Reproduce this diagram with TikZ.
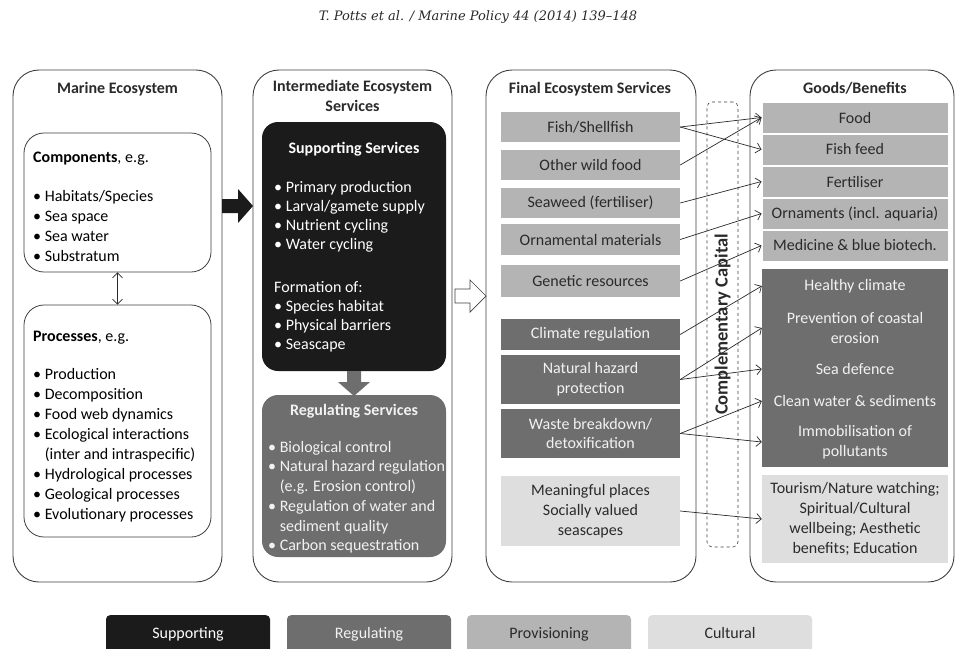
\documentclass[tikz,border=0pt]{standalone}
\usepackage{fontspec}
\setmainfont{Carlito}
\newfontfamily\hdrfont{DejaVu Serif}
\usetikzlibrary{arrows.meta}

\definecolor{supp}{HTML}{1B1B1B}
\definecolor{regu}{HTML}{6E6E6E}
\definecolor{prov}{HTML}{B4B4B4}
\definecolor{cult}{HTML}{DEDEDE}
\definecolor{ink}{HTML}{2A2A2A}
\definecolor{paper}{HTML}{F2F2F2}
\definecolor{frame}{HTML}{404040}

\newcommand{\blt}{\textbullet\ }
\newcommand{\bltgap}{\phantom{\textbullet\ }}

\tikzset{
  colbox/.style={draw=frame, line width=0.9pt, rounded corners=26pt},
  subbox/.style={draw=frame, line width=0.8pt, rounded corners=20pt},
  colhead/.style={anchor=base, font=\bfseries, inner sep=0pt, text=ink},
  listline/.style={anchor=base west, inner sep=0pt},
  svc/.style={rectangle, minimum width=179pt, inner sep=1pt, align=center},
  ben/.style={rectangle, minimum width=186pt, inner sep=1pt, align=center},
  benline/.style={inner sep=0pt, text=paper},
  link/.style={-{Straight Barb[length=5pt,width=10pt]}, line width=0.7pt, draw=ink},
  twoway/.style={{Straight Barb[length=5pt,width=10pt]}-{Straight Barb[length=5pt,width=10pt]}, line width=0.7pt, draw=ink},
  legendbox/.style={rectangle, rounded corners=4pt, anchor=north, minimum width=164pt,
                    inner ysep=12pt, text height=11pt, text depth=3pt},
}

\begin{document}
\fontsize{16pt}{19.8pt}\selectfont
\begin{tikzpicture}[x=1pt, y=-1pt]
    \clip (0,0) rectangle (957,648);
    \fill[white] (0,0) rectangle (957,648);

    % 0. 页眉
    \node[inner sep=0pt, text=ink] (hdr) at (478,17)
      {\hdrfont\itshape\fontsize{13pt}{15pt}\selectfont T. Potts et al. / Marine Policy 44 (2014) 139–148};

    % 1. 海洋生态系统
    \node[colbox, minimum width=209pt, minimum height=512pt] (marine) at (117.5,326) {};
    \node[colhead] (marine-t) at (117.5,93) {Marine Ecosystem};

    \node[subbox, minimum width=187pt, minimum height=139pt] (comp) at (117.5,202.5) {};
    \node[listline] (comp-t) at (33,162) {\textbf{Components}, e.g.};
    \foreach \txt [count=\i] in {Habitats/Species, Sea space, Sea water, Substratum}
      \node[listline] (comp-\i) at (33,181+20*\i) {\blt\txt};

    \node[subbox, minimum width=187pt, minimum height=232pt] (proc) at (117.5,421) {};
    \node[listline] (proc-t) at (33,341) {\textbf{Processes}, e.g.};
    \foreach \txt [count=\i] in {\blt Production, \blt Decomposition, \blt Food web dynamics,
        \blt Ecological interactions, \bltgap(inter and intraspecific), \blt Hydrological processes,
        \blt Geological processes, \blt Evolutionary processes}
      \node[listline] (proc-\i) at (33,359+20*\i) {\txt};

    \draw[twoway] (comp.south) -- (proc.north);

    % 粗箭头 (黑)
    \fill[supp] (222,199) -- (238,199) -- (238,189) -- (253,206) -- (238,223) -- (238,213) -- (222,213) -- cycle;

    % 2. 中间生态系统服务
    \node[colbox, minimum width=199pt, minimum height=512pt] (inter) at (352.5,326) {};
    \node[colhead] (inter-t1) at (352.5,91) {Intermediate Ecosystem};
    \node[colhead] (inter-t2) at (352.5,111) {Services};

    \node[fill=supp, rounded corners=16pt, minimum width=184pt, minimum height=249pt] (supp-box) at (354,246.5) {};
    \node[colhead, text=white] (supp-t) at (354,153) {Supporting Services};
    \foreach \txt [count=\i] in {Primary production, Larval/gamete supply, Nutrient cycling, Water cycling}
      \node[listline, text=white] (supp-\i) at (274,173+19.2*\i) {\blt\txt};
    \node[listline, text=white] (form-t) at (274,292) {Formation of:};
    \foreach \txt [count=\i] in {Species habitat, Physical barriers, Seascape}
      \node[listline, text=white] (form-\i) at (274,292+19.3*\i) {\blt\txt};

    % 向下箭头 (灰)
    \fill[regu] (347,371) -- (361,371) -- (361,382) -- (370,382) -- (354,396) -- (338,382) -- (347,382) -- cycle;

    \node[fill=regu, rounded corners=16pt, minimum width=184pt, minimum height=162pt] (regu-box) at (354,476) {};
    \node[colhead, text=paper] (regu-t) at (354,415) {Regulating Services};
    \foreach \txt [count=\i] in {\blt Biological control, \blt Natural hazard regulation,
        \bltgap(e.g. Erosion control), \blt Regulation of water and, \bltgap sediment quality,
        \blt Carbon sequestration}
      \node[listline, text=paper] (regu-\i) at (268,432.5+19.7*\i) {\txt};

    % 空心箭头
    \draw[frame, fill=white, line width=0.7pt] (455,289) -- (470,289) -- (470,280) -- (486,296)
      -- (470,312) -- (470,303) -- (455,303) -- cycle;

    % 3. 最终生态系统服务
    \node[colbox, minimum width=210pt, minimum height=512pt] (final) at (591,326) {};
    \node[colhead] (final-t) at (590,93) {Final Ecosystem Services};

    \node[svc, fill=prov, text=ink, minimum height=30pt] (fish) at (590.5,127) {Fish/Shellfish};
    \node[svc, fill=prov, text=ink, minimum height=30pt] (wild) at (590.5,165) {Other wild food};
    \node[svc, fill=prov, text=ink, minimum height=30pt] (seaweed) at (590.5,203) {Seaweed (fertiliser)};
    \node[svc, fill=prov, text=ink, minimum height=31pt] (ornam) at (590.5,239.5) {Ornamental materials};
    \node[svc, fill=prov, text=ink, minimum height=32pt] (genetic) at (590.5,281) {Genetic resources};
    \node[svc, fill=regu, text=paper, minimum height=31pt] (climate) at (590.5,334.5) {Climate regulation};
    \node[svc, fill=regu, text=paper, minimum height=49pt] (hazard) at (590.5,379.5) {Natural hazard\\protection};
    \node[svc, fill=regu, text=paper, minimum height=49pt] (waste) at (590.5,433.5) {Waste breakdown/\\detoxification};
    \node[svc, fill=cult, text=ink, minimum height=70pt] (places) at (590.5,511) {Meaningful places\\Socially valued\\seascapes};

    % 补充资本 (虚线)
    \node[draw=frame, dashed, line width=0.6pt, rounded corners=5pt, inner sep=0pt,
          minimum width=31pt, minimum height=445pt] (cc) at (722.5,324.5) {};
    \node[rotate=90, inner sep=0pt, text=ink, font=\bfseries\fontsize{18.5pt}{20pt}\selectfont] (cc-t) at (cc.center) {Complementary Capital};

    % 4. 产品/收益
    \node[colbox, minimum width=204pt, minimum height=512pt] (goods) at (852,326) {};
    \node[colhead] (goods-t) at (855,93) {Goods/Benefits};

    \foreach \nm/\txt [count=\i] in {food/Food, feed/Fish feed, fert/Fertiliser,
        orn/Ornaments (incl. aquaria), med/Medicine \& blue biotech.}
      \node[ben, fill=prov, draw=white, line width=1pt, minimum height=31pt, text=ink] (\nm) at (855,85.5+32*\i) {\txt};

    \node[ben, fill=regu, minimum height=198pt] (regben) at (855,368) {};
    \node[benline] (hc) at (855,286) {Healthy climate};
    \node[benline, align=center] (pce) at (855,328) {Prevention of coastal\\erosion};
    \node[benline] (sd) at (855,369) {Sea defence};
    \node[benline] (cw) at (855,401) {Clean water \& sediments};
    \node[benline, align=center] (imm) at (855,442) {Immobilisation of\\pollutants};

    \node[ben, fill=cult, text=ink, minimum height=88pt] (cultben) at (855,519)
      {Tourism/Nature watching;\\Spiritual/Cultural\\wellbeing; Aesthetic\\benefits; Education};

    % 连线
    \draw[link] (fish.east) -- (food.west);
    \draw[link] (fish.east) -- (feed.west);
    \draw[link] (wild.east) -- (food.west);
    \draw[link] (seaweed.east) -- (fert.west);
    \draw[link] (ornam.east) -- (orn.west);
    \draw[link] (genetic.east) -- (med.west);
    \draw[link] (climate.east) -- (hc -| regben.west);
    \draw[link] (hazard.east) -- (pce -| regben.west);
    \draw[link] (hazard.east) -- (sd -| regben.west);
    \draw[link] (waste.east) -- (cw -| regben.west);
    \draw[link] (waste.east) -- (imm -| regben.west);
    \draw[link] (places.east) -- (cultben.west);

    % 5. 图例
    \node[legendbox, fill=supp, text=white] (k-supp) at (188,615) {Supporting};
    \node[legendbox, fill=regu, text=paper] (k-regu) at (369,615) {Regulating};
    \node[legendbox, fill=prov, text=ink] (k-prov) at (549,615) {Provisioning};
    \node[legendbox, fill=cult, text=ink] (k-cult) at (730,615) {Cultural};

  \end{tikzpicture}
\end{document}
